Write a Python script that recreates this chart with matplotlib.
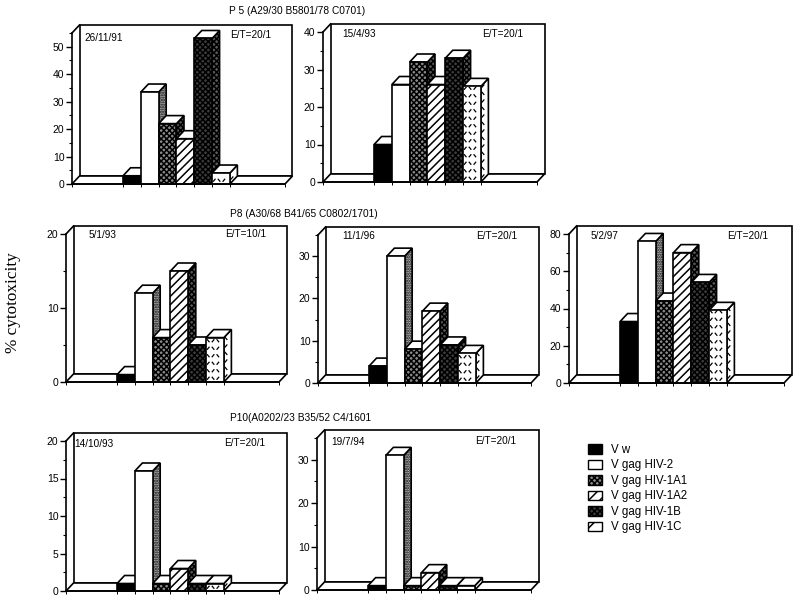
import matplotlib
matplotlib.use("Agg")
import matplotlib.pyplot as plt
from matplotlib.patches import Patch

plt.rcParams['font.family'] = ['Liberation Sans', 'DejaVu Sans']
plt.rcParams['hatch.linewidth'] = 1.1

W, H = 800, 603

strains = ['V w', 'V gag HIV-2', 'V gag HIV-1A1', 'V gag HIV-1A2', 'V gag HIV-1B', 'V gag HIV-1C']

vals_26_11_91 = [3, 33.5, 22, 16.5, 53, 4]
vals_15_4_93 = [10, 26, 32, 26, 33, 25.5]
vals_5_1_93 = [1, 12, 6, 15, 5, 6]
vals_11_1_96 = [4, 30, 8, 17, 9, 7]
vals_5_2_97 = [33, 76, 44, 70, 54, 39]
vals_14_10_93 = [1, 16, 1, 3, 1, 1]
vals_19_7_94 = [1, 31, 1, 4, 1, 1]

titles = ['P 5 (A29/30 B5801/78 C0701)', 'P8 (A30/68 B41/65 C0802/1701)', 'P10(A0202/23 B35/52 C4/1601']

# front colour, front hatch, side colour, side hatch
styles = [
    ('black', None, 'black', None),
    ('white', None, '#bdbdbd', '.......'),
    ('#8a8a8a', 'xxxxxx', '#555555', 'xxxxxx'),
    ('white', '////', '#555555', 'xxxxxx'),
    ('#3c3c3c', 'xxxxxx', '#5a5a5a', 'xxxxxx'),
    ('white', None, 'white', None),
]

# values, date, ratio, ymax, major, minor, left px, right px, baseline px, top px, date pos, ratio pos
panels = [
    (vals_26_11_91, '26/11/91', 'E/T=20/1', 55, 10, 5, 72, 285, 184, 33, (84, 38), (230, 35)),
    (vals_15_4_93, '15/4/93', 'E/T=20/1', 40, 10, 5, 323, 537, 182, 32, (342, 34), (482, 34)),
    (vals_5_1_93, '5/1/93', 'E/T=10/1', 20, 10, 5, 66, 279, 382, 234, (89, 235), (225, 234)),
    (vals_11_1_96, '11/1/96', 'E/T=20/1', 35, 10, 5, 318, 531, 383, 235, (342, 236), (476, 236)),
    (vals_5_2_97, '5/2/97', 'E/T=20/1', 80, 20, 10, 569, 784, 383, 234, (591, 236), (727, 236)),
    (vals_14_10_93, '14/10/93', 'E/T=20/1', 20, 5, 2.5, 66, 279, 591, 441, (74, 444), (224, 443)),
    (vals_19_7_94, '19/7/94', 'E/T=20/1', 35, 10, 5, 317, 531, 590, 438, (331, 442), (475, 441)),
]

BAR_PX = 17.8
DEPTH = 7.5
LW = 1.2


def frange(start, stop, step):
    out = []
    v = start
    while v <= stop + 1e-9:
        out.append(v)
        v += step
    return out


def dashes(ax, x0, x1, y0, y1, skew, sy, z):
    # short broken strokes of the HIV-1C fill
    step_x = 0.27
    step_y = 7.5 / sy
    size_x = 0.07
    row = 0
    y = y0 + step_y * 0.5
    while y < y1 - step_y * 0.15:
        col = 0
        x = x0 + step_x * 0.45
        while x < x1 - 0.08:
            sign = 1 if (row + col) % 2 == 0 else -1
            top = y + skew * (x - x0)
            ax.plot([x - size_x, x + size_x], [top - sign * 0.2 * step_y, top + sign * 0.2 * step_y],
                    color='black', lw=0.9, solid_capstyle='butt', clip_on=False, zorder=z)
            x += step_x
            col += 1
        y += step_y
        row += 1


def draw_panel(fig, p):
    vals, date, ratio, ymax, major, minor, left, right, base, top, date_pos, ratio_pos = p
    ax = fig.add_axes([left / W, 1 - base / H, (right - left) / W, (base - top) / H])
    nx = (right - left) / BAR_PX
    x_start = -2.87
    ax.set_xlim(x_start, x_start + nx)
    ax.set_ylim(0, ymax)
    sy = (base - top) / ymax
    dx = DEPTH / BAR_PX
    dy = (DEPTH + 0.5) / sy
    xa, xb = ax.get_xlim()

    # back wall, floor and left wall outline
    ax.fill([xa + dx, xb + dx, xb + dx, xa + dx], [dy, dy, ymax + dy, ymax + dy],
            facecolor='white', edgecolor='black', lw=LW, clip_on=False, zorder=1)
    ax.fill([xa, xb, xb + dx, xa + dx], [0, 0, dy, dy],
            facecolor='white', edgecolor='black', lw=LW, clip_on=False, zorder=1)
    ax.plot([xa, xa + dx], [ymax, ymax + dy], color='black', lw=LW, clip_on=False, zorder=1)

    # bars, left to right so each one covers the side of the one before
    for i, v in enumerate(vals):
        fc, hatch, side_fc, side_hatch = styles[i]
        z = 2 + i
        ax.fill([i + 1, i + 1 + dx, i + 1 + dx, i + 1], [0, dy, v + dy, v],
                facecolor=side_fc, edgecolor='black', hatch=side_hatch, lw=LW, clip_on=False, zorder=z)
        ax.fill([i, i + 1, i + 1 + dx, i + dx], [v, v, v + dy, v + dy],
                facecolor='white', edgecolor='black', lw=LW, clip_on=False, zorder=z)
        ax.bar(i, v, width=1, align='edge', color=fc, edgecolor='black', hatch=hatch, lw=LW, clip_on=False, zorder=z)
        if i == 5:
            dashes(ax, i, i + 1, 0, v, 0, sy, z + 0.5)
            dashes(ax, i + 1, i + 1 + dx, 0, v, dy / dx, sy, z + 0.5)

    for s in ['top', 'right']:
        ax.spines[s].set_visible(False)
    for s in ['left', 'bottom']:
        ax.spines[s].set_linewidth(LW)
        ax.spines[s].set_zorder(20)
    ax.set_yticks(frange(0, ymax, major))
    ax.set_yticks(frange(0, ymax, minor), minor=True)
    ax.set_yticklabels([('%g' % t) for t in frange(0, ymax, major)])
    ax.set_xticks([xa, 0, 1, 2, 3, 4, 5, 6, xb])
    ax.set_xticklabels([])
    ax.tick_params(axis='y', which='major', length=4, width=1, labelsize=7.5, pad=1.5)
    ax.tick_params(axis='y', which='minor', length=2, width=0.8)
    ax.tick_params(axis='x', length=2, width=0.7, direction='out')
    ax.patch.set_alpha(0)

    fig.text(date_pos[0] / W, 1 - date_pos[1] / H, date, fontsize=7.2, va='center', ha='left', zorder=30)
    fig.text(ratio_pos[0] / W, 1 - ratio_pos[1] / H, ratio, fontsize=7.2, va='center', ha='left', zorder=30)


fig = plt.figure(figsize=(W / 100, H / 100), dpi=100)
for p in panels:
    draw_panel(fig, p)

fig.text(229 / W, 1 - 11 / H, titles[0], fontsize=7.3, va='center', ha='left')
fig.text(230 / W, 1 - 214 / H, titles[1], fontsize=7.3, va='center', ha='left')
fig.text(230 / W, 1 - 418 / H, titles[2], fontsize=7.3, va='center', ha='left')

fig.text(13 / W, 1 - 303 / H, '% cytotoxicity', rotation=90, fontsize=12.3, va='center', ha='center',
         family=['Liberation Serif', 'DejaVu Serif'])

handles = [
    Patch(facecolor='black', edgecolor='black'),
    Patch(facecolor='white', edgecolor='black'),
    Patch(facecolor='#8a8a8a', edgecolor='black', hatch='xxxxxx'),
    Patch(facecolor='white', edgecolor='black', hatch='///'),
    Patch(facecolor='#3c3c3c', edgecolor='black', hatch='xxxxxx'),
    Patch(facecolor='white', edgecolor='black', hatch='//'),
]
fig.legend(handles, strains, loc='upper left', bbox_to_anchor=(587.5 / W, 1 - 444 / H), frameon=False,
           fontsize=8.3, handlelength=1.3, handleheight=0.9, handletextpad=0.75, labelspacing=0.3,
           borderpad=0, borderaxespad=0)

fig.savefig('out.png', dpi=100)
